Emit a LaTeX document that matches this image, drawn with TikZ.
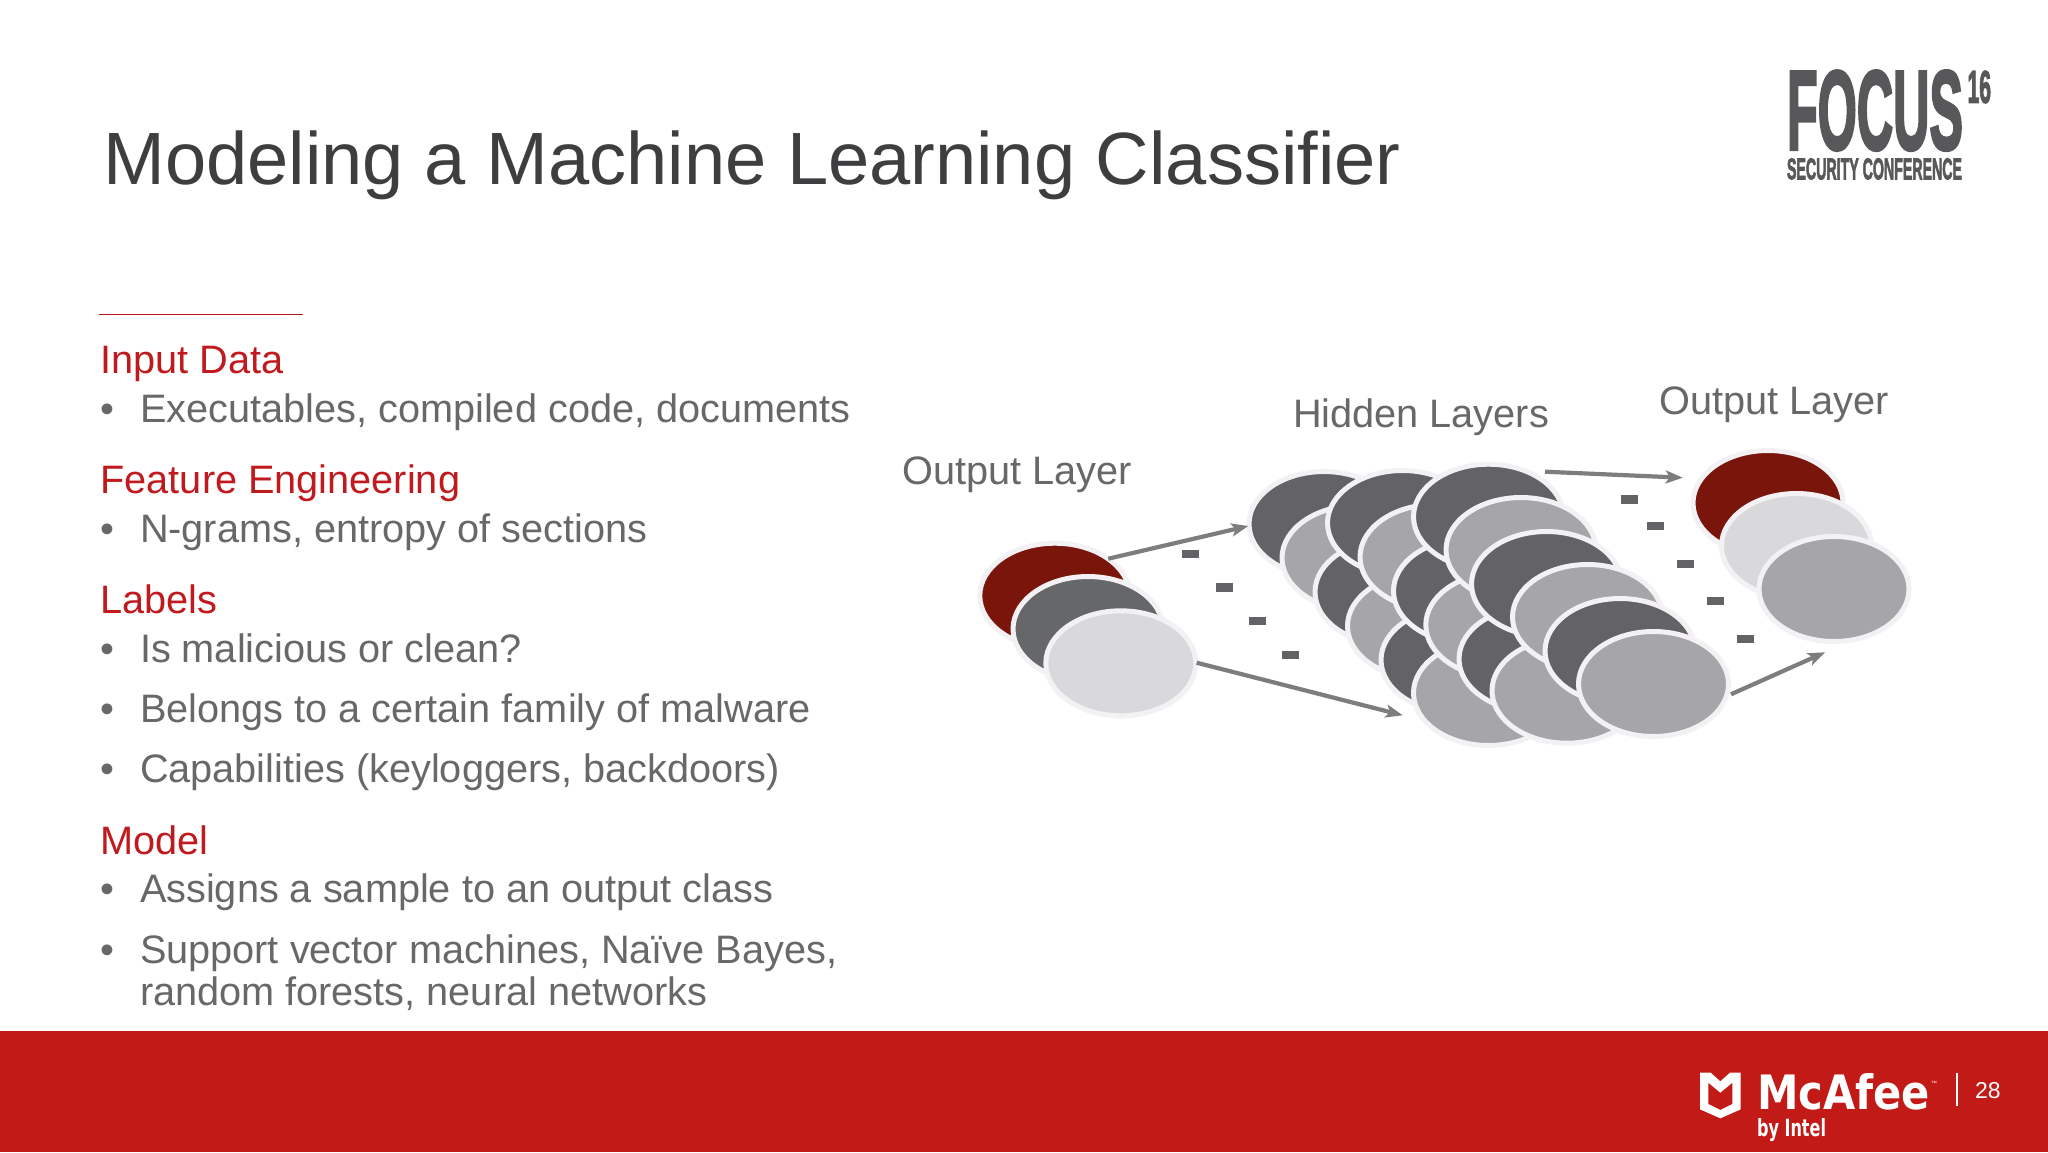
\documentclass[tikz,border=0pt]{standalone}
\usepackage{graphicx}
\usepackage{fontspec}
\setmainfont{Liberation Sans}
\newfontfamily\focusfont[FakeBold=3]{Liberation Sans Bold}
\newfontfamily\mcafeefont{DejaVu Sans Bold}
\usetikzlibrary{shapes.geometric,arrows.meta}
\definecolor{barred}{HTML}{C21A16}
\definecolor{headred}{HTML}{C01A1E}
\definecolor{bodygray}{HTML}{68686B}
\definecolor{titlegray}{HTML}{3E3E40}
\definecolor{halo}{HTML}{F3F1F3}
\definecolor{darkdisc}{HTML}{636265}
\definecolor{middisc}{HTML}{A6A5A8}
\definecolor{paledisc}{HTML}{D9D9DB}
\definecolor{reddisc}{HTML}{7A150C}
\definecolor{greendisc}{HTML}{666768}
\definecolor{arrowgray}{HTML}{7D7C7F}
\definecolor{logogray}{HTML}{58585A}
\tikzset{
  disc/.style={shape=ellipse,inner sep=0pt,outer sep=0pt,minimum width=150pt,minimum height=105pt,draw=halo,line width=5pt,fill=#1},
  flow/.style={draw=arrowgray,line width=4.2pt,-{Stealth[length=17pt,width=13pt,inset=4pt]}},
  dashmark/.style={fill=darkdisc,inner sep=0pt,minimum width=17pt,minimum height=8.5pt},
  txt/.style={anchor=base west,inner sep=0pt,outer sep=0pt},
  slidetitle/.style={txt,text=titlegray,font=\fontsize{74.1}{74.1}\selectfont},
  bodytext/.style={txt,text=bodygray,font=\fontsize{39.7}{39.7}\selectfont},
  headtext/.style={txt,text=headred,font=\fontsize{39.7}{39.7}\selectfont},
  logotext/.style={anchor=north west,inner sep=0pt,outer sep=0pt},
}
\begin{document}
\begin{tikzpicture}[x=1pt,y=-1pt]
\useasboundingbox (0,0) rectangle (2048,1152);
\fill[white] (0,0) rectangle (2048,1152);
\fill[barred] (0,1030.5) rectangle (2048,1152);
% title and rule
\node[slidetitle] (title) at (103.5,184) {Modeling a Machine Learning Classifier};
\coordinate (ruleA) at (99,314.7);
\coordinate (ruleB) at (303,314.7);
\draw[headred,line width=1.4pt] (ruleA) -- (ruleB);
% left text
\node[headtext] (h1) at (100.5,373.5) {Input Data};
\node[bodytext] (b1m) at (100.5,422) {•};
\node[bodytext] (b1) at (140,422) {Executables, compiled code, documents};
\node[headtext] (h2) at (100.5,493.7) {Feature Engineering};
\node[bodytext] (b2m) at (100.5,542) {•};
\node[bodytext] (b2) at (140,542) {N-grams, entropy of sections};
\node[headtext] (h3) at (100.5,613) {Labels};
\node[bodytext] (b3m) at (100.5,662) {•};
\node[bodytext] (b3) at (140,662) {Is malicious or clean?};
\node[bodytext] (b4m) at (100.5,722) {•};
\node[bodytext] (b4) at (140,722) {Belongs to a certain family of malware};
\node[bodytext] (b5m) at (100.5,782) {•};
\node[bodytext] (b5) at (140,782) {Capabilities (keyloggers, backdoors)};
\node[headtext] (h4) at (100.5,854) {Model};
\node[bodytext] (b6m) at (100.5,902.5) {•};
\node[bodytext] (b6) at (140,902.5) {Assigns a sample to an output class};
\node[bodytext] (b7m) at (100.5,963.3) {•};
\node[bodytext] (b7) at (140,963.3) {Support vector machines, Naïve Bayes,};
\node[bodytext] (b8) at (140,1005.6) {random forests, neural networks};
% network labels
\node[bodytext] (lblIn) at (902.5,484.5) {Output Layer};
\node[bodytext] (lblHid) at (1293,427) {Hidden Layers};
\node[bodytext] (lblOut) at (1659.5,414.7) {Output Layer};
% input layer
\node[disc=reddisc] (i1) at (1054.8,595.7) {};
\node[disc=greendisc] (i2) at (1088,629) {};
\node[disc=paledisc] (i3) at (1120.8,663.3) {};
% hidden layers
\node[disc=darkdisc] (a1) at (1324,524) {};
\node[disc=middisc] (a2) at (1357,558) {};
\node[disc=darkdisc] (a3) at (1390,592) {};
\node[disc=middisc] (a4) at (1422.5,626) {};
\node[disc=darkdisc] (a5) at (1456,660) {};
\node[disc=middisc] (a6) at (1488.5,693) {};
\node[disc=darkdisc] (b1d) at (1402.5,523) {};
\node[disc=middisc] (b2d) at (1435,557) {};
\node[disc=darkdisc] (b3d) at (1468.5,591) {};
\node[disc=middisc] (b4d) at (1500.8,625) {};
\node[disc=darkdisc] (b5d) at (1534,659) {};
\node[disc=middisc] (b6d) at (1567,690.7) {};
\node[disc=darkdisc] (c1) at (1488.5,516.7) {};
\node[disc=middisc] (c2) at (1521,550) {};
\node[disc=darkdisc] (c3) at (1546.5,584) {};
\node[disc=middisc] (c4) at (1587.5,617) {};
\node[disc=darkdisc] (c5) at (1620,651) {};
\node[disc=middisc] (c6) at (1653.5,684) {};
% output layer
\node[disc=reddisc] (o1) at (1768,503) {};
\node[disc=paledisc] (o2) at (1796.5,546) {};
\node[disc=middisc] (o3) at (1834,589) {};
% arrows
\coordinate (f1s) at (1108.3,558.7);
\coordinate (f1e) at (1248.3,526);
\coordinate (f2s) at (1196.7,662.7);
\coordinate (f2e) at (1402.7,715.3);
\coordinate (f3s) at (1545,471.7);
\coordinate (f3e) at (1682.7,477.7);
\coordinate (f4s) at (1731,694.3);
\coordinate (f4e) at (1825,652.3);
\draw[flow] (f1s) -- (f1e);
\draw[flow] (f2s) -- (f2e);
\draw[flow] (f3s) -- (f3e);
\draw[flow] (f4s) -- (f4e);
% dash marks
\node[dashmark] (d1) at (1190.8,554) {};
\node[dashmark] (d2) at (1224,587.5) {};
\node[dashmark] (d3) at (1257,621) {};
\node[dashmark] (d4) at (1290,655) {};
\node[dashmark] (d5) at (1629,499.5) {};
\node[dashmark] (d6) at (1655,525.8) {};
\node[dashmark] (d7) at (1685,564) {};
\node[dashmark] (d8) at (1715.5,601) {};
\node[dashmark] (d9) at (1745.3,639) {};
% Focus logo
\node[logotext,text=logogray] (focus) at (1787,70.7) {\resizebox{176pt}{78.6pt}{\focusfont FOCUS}};
\node[logotext,text=logogray] (sixteen) at (1967.5,70.7) {\resizebox{23.5pt}{32pt}{\focusfont 16}};
\node[logotext,text=logogray] (conf) at (1787,158.3) {\resizebox{175pt}{21pt}{\focusfont SECURITY CONFERENCE}};
% McAfee logo
\begin{scope}[shift={(1680,1050)},x=0.3333pt,y=-0.3333pt]
\fill[white,even odd rule]
 (60,68) -- (92,68) -- (121,94) -- (150,68) -- (182,68) -- (182,178) -- (121,205) -- (60,178) -- cycle
 (85,98) -- (85,162) -- (121,180) -- (157,162) -- (157,98) -- (121,128) -- cycle;
\end{scope}
\node[logotext,text=white] (mcafee) at (1757,1073) {\resizebox{173pt}{36pt}{\mcafeefont McAfee}};
\node[txt,text=white,font=\fontsize{6}{6}\selectfont] (tm) at (1931,1085) {™};
\node[logotext,text=white] (intel) at (1757,1118) {\resizebox{69pt}{18pt}{\mcafeefont by Intel}};
\coordinate (sepA) at (1957,1072.7);
\coordinate (sepB) at (1957,1106);
\draw[white,line width=1.2pt] (sepA) -- (sepB);
\node[txt,text=white,font=\fontsize{23}{23}\selectfont] (page) at (1975,1098) {28};
\end{tikzpicture}
\end{document}
